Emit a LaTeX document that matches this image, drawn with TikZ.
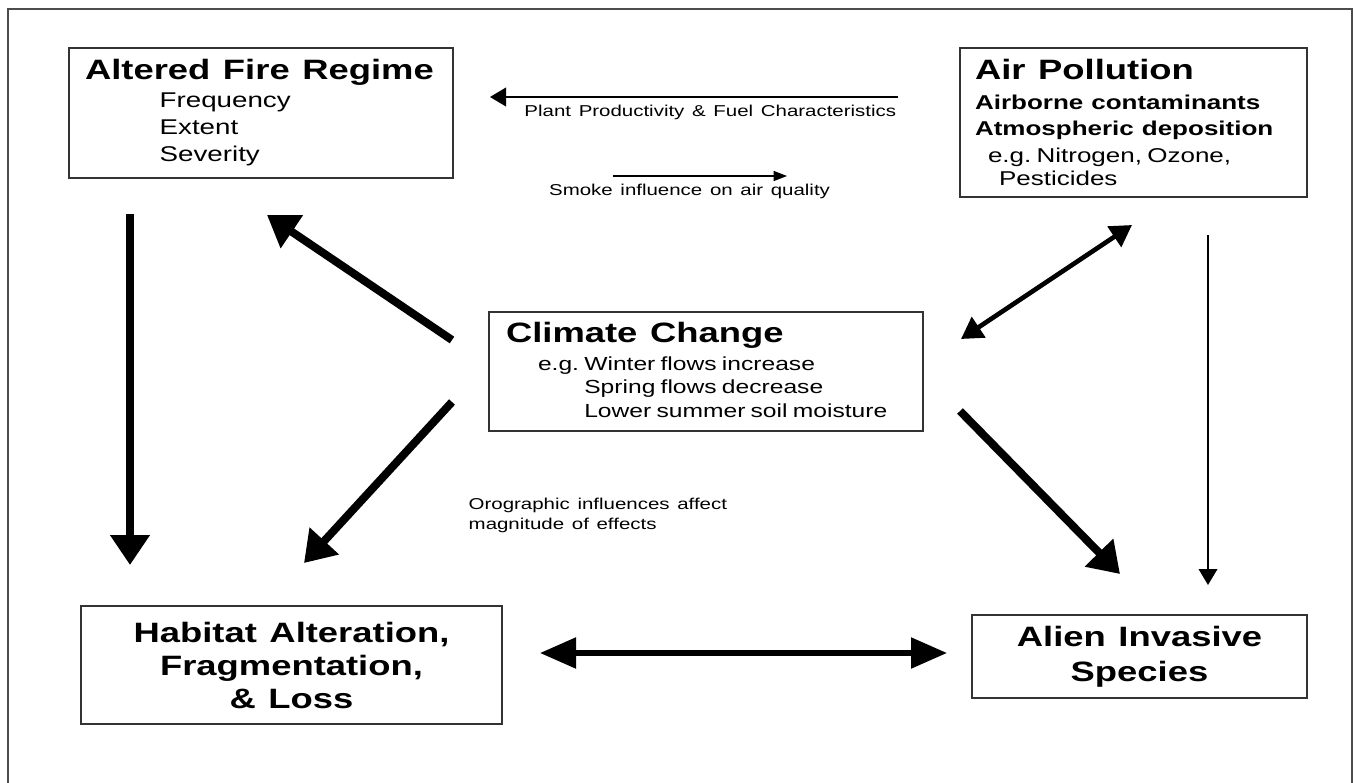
\documentclass[tikz,border=0pt]{standalone}
\usepackage{fontspec}
\setmainfont[FakeStretch=1.3, WordSpace=1.35]{Liberation Sans}
\usetikzlibrary{arrows.meta}

\newcommand{\headfont}{\fontsize{21}{26}\selectfont\bfseries\spaceskip=0.45em\relax}
\newcommand{\subheadfont}{\fontsize{15}{19.5}\selectfont\bfseries\spaceskip=0.4em\relax}

\begin{document}
\begin{tikzpicture}[
    x=0.75pt, y=-0.75pt,
    every node/.style={font=\fontsize{11.8}{15}\selectfont\frenchspacing},
    box/.style={rectangle, draw=black!80, line width=1.1pt, fill=white, inner ysep=0pt, align=left},
    fatarrow/.style={-{Triangle[length=22.5pt, width=28.5pt]}, line width=6pt},
    midarrow/.style={{Triangle[length=16pt, width=18pt]}-{Triangle[length=16pt, width=18pt]}, line width=3.5pt},
    widearrow/.style={{Triangle[length=27pt, width=22.5pt]}-{Triangle[length=27pt, width=22.5pt]}, line width=4pt},
    thinarrow/.style={-{Triangle[length=12pt, width=14pt]}, line width=1.2pt},
    tinyarrow/.style={-{Triangle[length=10pt, width=7.5pt]}, line width=1pt},
    note/.style={font=\fontsize{11.8}{15}\selectfont\frenchspacing}
]
\useasboundingbox (0,0) rectangle (1353,782);
\draw[black!70, line width=1.3pt] (8,9) rectangle (1352,790);

% Boxes
\node[box, minimum width=288pt, minimum height=97.5pt, inner xsep=12pt, text width=264pt] (fire) at (261,113) {%
{\headfont Altered Fire Regime}\par
\fontsize{16}{20.5}\selectfont
\hspace*{56pt}Frequency\par
\hspace*{56pt}Extent\par
\hspace*{56pt}Severity\par};

\node[box, minimum width=260.25pt, minimum height=111.75pt, inner xsep=11.25pt, text width=237.75pt] (air) at (1133.5,122.5) {%
{\headfont Air Pollution}\par
{\subheadfont\baselineskip=22.5pt Airborne contaminants\par}
{\subheadfont Atmospheric deposition\par}
\fontsize{15}{20}\selectfont\hspace*{9.75pt}e.g. Nitrogen, Ozone,\par
\fontsize{15}{17.5}\selectfont\hspace*{18pt}Pesticides\par};

\node[box, minimum width=325.5pt, minimum height=89.25pt, inner xsep=12.75pt, text width=300pt] (climate) at (706,371.5) {%
{\headfont Climate Change}\par
\fontsize{14.2}{21}\selectfont\hspace*{24pt}e.g. Winter flows increase\par
\fontsize{14.2}{17.5}\selectfont\hspace*{24pt}\phantom{e.g. }Spring flows decrease\par
\hspace*{24pt}\phantom{e.g. }Lower summer soil moisture\par};

\node[box, align=center, minimum width=315.75pt, minimum height=88.5pt, text width=300pt] (habitat) at (291.5,665) {%
\headfont\baselineskip=24.75pt Habitat Alteration,\\ Fragmentation,\\ \& Loss\par};

\node[box, align=center, minimum width=251.25pt, minimum height=62.25pt, text width=240pt] (alien) at (1139.5,656.5) {%
\headfont\baselineskip=26.25pt Alien Invasive\\ Species\par};

% arrow ends
\coordinate (fire-out) at (130,214);
\coordinate (hab-in) at (130,565);
\coordinate (clim-w1) at (452,340);
\coordinate (fire-in) at (267,215);
\coordinate (clim-w2) at (452,402);
\coordinate (hab-in2) at (304,563);
\coordinate (clim-e1) at (961,339);
\coordinate (air-sw) at (1132,225);
\coordinate (clim-e2) at (960,411);
\coordinate (alien-in) at (1120,574);
\coordinate (air-out) at (1208,235);
\coordinate (alien-in2) at (1208,585);
\coordinate (hab-e) at (540,653);
\coordinate (alien-w) at (947,653);
\coordinate (air-w) at (898,97);
\coordinate (fire-e) at (490,97);
\coordinate (smoke-from) at (613,176);
\coordinate (smoke-to) at (787,176);

% Fire regime and air pollution
\draw[thinarrow] (air-w) -- node[note, below=2pt, pos=0.46] (plantlabel) {Plant Productivity \& Fuel Characteristics} (fire-e);
\draw[tinyarrow] (smoke-from) -- node[note, below=2pt, pos=0.44] (smokelabel) {Smoke influence on air quality} (smoke-to);

% Climate change drivers
\draw[fatarrow] (fire-out) -- (hab-in);
\draw[fatarrow] (clim-w1) -- (fire-in);
\draw[fatarrow] (clim-w2) -- (hab-in2);
\draw[fatarrow] (clim-e2) -- (alien-in);
\draw[midarrow] (clim-e1) -- (air-sw);
\draw[thinarrow] (air-out) -- (alien-in2);
\draw[widearrow] (hab-e) -- (alien-w);

\node[note, anchor=north west, align=left] (orographic) at (464,493) {Orographic influences affect\\magnitude of effects};

\end{tikzpicture}
\end{document}
